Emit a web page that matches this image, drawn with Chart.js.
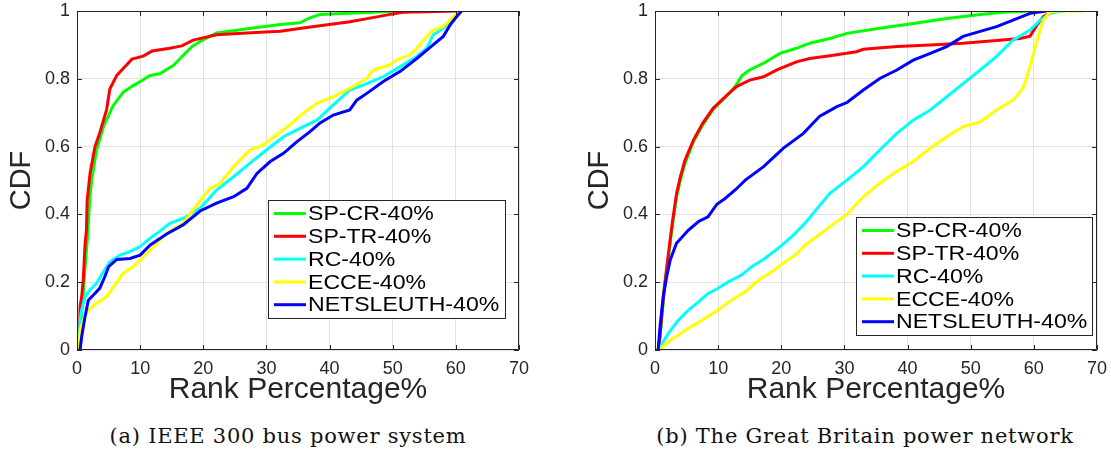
<!DOCTYPE html>
<html>
<head>
<meta charset="utf-8">
<script src="https://cdn.jsdelivr.net/npm/chart.js@4.4.0/dist/chart.umd.min.js"></script>
<style>
  body { margin: 0; background: #fff; width: 1111px; height: 454px; position: relative; overflow: hidden; }
  .box { position: absolute; top: 0; height: 410px; }
  .cap { position: absolute; top: 424px; line-height: 24px; font-family: "DejaVu Serif", serif; font-size: 21px;
         letter-spacing: 0.75px; color: #111; text-align: center; white-space: nowrap; }
</style>
</head>
<body>
<div class="box" style="left:0;width:555px"><canvas id="chartA" width="555" height="410"></canvas></div>
<div class="box" style="left:555px;width:556px"><canvas id="chartB" width="556" height="410"></canvas></div>
<div class="cap" style="left:98px;width:380px">(a) IEEE 300 bus power system</div>
<div class="cap" style="left:645px;width:440px">(b) The Great Britain power network</div>
<script>
// axis ticks
var rankTicks = [0, 10, 20, 30, 40, 50, 60, 70];
var cdfTicks = [0, 0.2, 0.4, 0.6, 0.8, 1];

var methodNames = ['SP-CR-40%', 'SP-TR-40%', 'RC-40%', 'ECCE-40%', 'NETSLEUTH-40%'];
var methodColors = ['#00ff00', '#ff0000', '#00ffff', '#ffff00', '#0000ff'];

// (a) IEEE 300 bus, [rank %, cdf]
var ieeeSpCr = [[0.3,0],[0.6,0.08],[1.0,0.17],[1.3,0.25],[1.7,0.34],[2.0,0.44],[2.3,0.5],[3.1,0.59],[4.2,0.66],
  [5.7,0.72],[7.3,0.76],[8.9,0.78],[10.5,0.797],[11.6,0.81],[13.1,0.815],[15.3,0.84],[16.6,0.865],[18.2,0.895],
  [19.5,0.91],[22.1,0.935],[27.9,0.95],[32.2,0.96],[35.3,0.965],[36.9,0.98],[38.5,0.99],[44.8,0.995],[51.6,1.0]];
var ieeeSpTr = [[0.3,0],[0.5,0.13],[0.74,0.157],[1.0,0.21],[1.27,0.31],[1.5,0.354],[1.6,0.44],[2.06,0.52],
  [2.85,0.6],[3.6,0.64],[4.7,0.71],[5.2,0.77],[6.3,0.81],[7.1,0.826],[8.7,0.858],[10.5,0.867],[11.9,0.882],
  [14.7,0.89],[16.6,0.897],[18.4,0.914],[22.1,0.93],[29,0.937],[32.2,0.94],[35.8,0.95],[43.2,0.968],
  [46.4,0.979],[49.6,0.99],[51.6,0.996],[60.2,1.0]];
var ieeeRc = [[0.3,0],[0.48,0.088],[0.74,0.118],[1.27,0.157],[2.06,0.177],[3.1,0.197],[4.2,0.231],[5.2,0.26],
  [6.8,0.28],[8.4,0.29],[10,0.305],[11.6,0.33],[13.1,0.35],[14.7,0.374],[16.8,0.388],[19.5,0.418],[22.1,0.472],
  [24.8,0.511],[27.4,0.551],[30,0.59],[32.7,0.629],[35.3,0.654],[38,0.678],[40.6,0.723],[43.2,0.767],
  [45.9,0.786],[48.5,0.806],[51.2,0.836],[53.8,0.866],[55.4,0.89],[56.4,0.929],[58,0.949],[59.6,0.973],[60.8,1.0]];
var ieeeEcce = [[0.3,0],[0.48,0.059],[1.0,0.088],[1.8,0.118],[3.1,0.138],[4.7,0.157],[5.8,0.187],[7.3,0.226],
  [8.9,0.246],[10,0.265],[11.6,0.295],[13.1,0.324],[14.2,0.344],[16.8,0.374],[18.4,0.413],[20,0.452],[21.1,0.477],
  [22.6,0.49],[24.8,0.541],[27.4,0.59],[29.5,0.605],[31.6,0.634],[33.7,0.664],[35.8,0.698],[38,0.728],
  [40.6,0.747],[43.2,0.772],[45.9,0.801],[46.9,0.826],[49.6,0.841],[50.6,0.855],[52.7,0.87],[53.8,0.89],
  [55.4,0.925],[56.4,0.944],[58,0.954],[59.1,0.973],[59.9,0.988],[61.1,1.0]];
var ieeeNetsleuth = [[0.48,0],[0.74,0.039],[1.27,0.098],[1.8,0.147],[2.6,0.162],[3.6,0.182],[4.4,0.216],[5,0.246],
  [6.3,0.267],[8.4,0.27],[10,0.28],[11.6,0.31],[14.2,0.342],[16.8,0.369],[19.5,0.41],[22.1,0.433],[24.8,0.452],
  [26.9,0.477],[28.5,0.521],[30.6,0.556],[32.7,0.58],[34.8,0.614],[36.9,0.644],[38.5,0.67],[40.6,0.693],
  [43.2,0.708],[44.3,0.737],[45.9,0.757],[48.5,0.792],[51.2,0.822],[53.8,0.86],[56.4,0.9],[58,0.925],
  [59.1,0.959],[60.1,0.983],[60.9,1.0]];

// (b) Great Britain network
var gbSpCr = [[0.5,0],[0.8,0.04],[1.1,0.1],[1.5,0.18],[2.1,0.27],[2.7,0.36],[3.4,0.45],[4.0,0.5],[4.75,0.55],
  [6.1,0.615],[7.6,0.665],[9.2,0.71],[11.4,0.75],[12.7,0.777],[13.8,0.81],[15,0.826],[17.2,0.846],[19.8,0.875],
  [22.4,0.89],[24.5,0.905],[27.7,0.919],[30.4,0.934],[35.6,0.949],[40.9,0.963],[46.2,0.978],[51.5,0.99],
  [55,0.996],[59.4,1.0]];
var gbSpTr = [[0.5,0],[0.8,0.04],[1.1,0.11],[1.5,0.19],[2.1,0.28],[2.7,0.37],[3.4,0.46],[4.0,0.51],[4.75,0.56],
  [6.1,0.62],[7.6,0.67],[9.2,0.713],[11.4,0.752],[12.9,0.777],[15,0.796],[17.2,0.806],[19.3,0.826],[22.4,0.85],
  [24.5,0.86],[27.7,0.868],[31.9,0.88],[33,0.887],[38.3,0.895],[43.6,0.9],[48.8,0.905],[54.1,0.913],
  [57.8,0.919],[59.4,0.926],[60.5,0.959],[61.5,0.983],[63.1,0.998],[63.5,1.0]];
var gbRc = [[0.5,0],[2.1,0.049],[3.7,0.088],[5.3,0.118],[6.9,0.142],[8.4,0.167],[10,0.182],[11.6,0.201],
  [13.7,0.221],[15.3,0.246],[17.4,0.27],[19.5,0.3],[21.7,0.335],[23.8,0.375],[25.8,0.42],[27.7,0.462],
  [30.4,0.501],[33,0.541],[35.6,0.59],[38.3,0.639],[40.9,0.678],[43.6,0.708],[46.2,0.747],[48.8,0.786],
  [51.5,0.826],[54.1,0.866],[56.7,0.914],[59.4,0.944],[61,0.973],[62.6,0.993],[64.6,1.0],[65,1.0]];
var gbEcce = [[0.5,0],[2.6,0.03],[5.3,0.064],[7.9,0.093],[10,0.118],[12.1,0.147],[14.3,0.172],[16.4,0.206],
  [18.5,0.231],[20.6,0.26],[22.2,0.28],[23.8,0.31],[25.8,0.337],[27.7,0.364],[30.4,0.4],[33,0.452],[35.6,0.492],
  [38.3,0.527],[40.9,0.556],[43.6,0.595],[46.2,0.629],[48.8,0.659],[51.5,0.673],[54.1,0.708],[56.7,0.737],
  [58.3,0.772],[59.4,0.836],[60.5,0.914],[61.5,0.973],[62.6,0.998],[64.6,1.0],[67.8,1.0]];
var gbNetsleuth = [[0.5,0],[0.8,0.069],[1.3,0.157],[1.85,0.216],[2.4,0.265],[3.4,0.315],[5.3,0.354],[6.9,0.379],
  [8.4,0.393],[9.8,0.43],[11.1,0.447],[12.7,0.472],[14.3,0.501],[17.2,0.541],[20.3,0.595],[23.5,0.639],
  [26.1,0.69],[28.8,0.718],[30.4,0.73],[33,0.767],[35.6,0.801],[38.3,0.826],[40.9,0.855],[43.6,0.875],
  [46.2,0.895],[48.8,0.925],[51.5,0.94],[54.1,0.954],[56.7,0.973],[59.4,0.993],[62,1.0]];

var textColor = '#262626';
var sansFont = '"Liberation Sans", Arial, Helvetica, sans-serif';

// box around the axes with inward ticks, like matlab
var matlabFrame = {
  id: 'matlabFrame',
  afterDatasetsDraw: function(chart) {
    var ctx = chart.ctx, a = chart.chartArea, sx = chart.scales.x, sy = chart.scales.y;
    ctx.save();
    ctx.strokeStyle = textColor;
    ctx.lineWidth = 1;
    ctx.beginPath();
    ctx.rect(Math.round(a.left) + 0.5, Math.round(a.top) + 0.5, Math.round(a.right - a.left) - 1, Math.round(a.bottom - a.top) - 1);
    var t = 5;
    rankTicks.forEach(function(v) {
      var px = Math.round(sx.getPixelForValue(v)) + 0.5;
      ctx.moveTo(px, a.bottom); ctx.lineTo(px, a.bottom - t);
      ctx.moveTo(px, a.top); ctx.lineTo(px, a.top + t);
    });
    cdfTicks.forEach(function(v) {
      var py = Math.round(sy.getPixelForValue(v)) + 0.5;
      ctx.moveTo(a.left, py); ctx.lineTo(a.left + t, py);
      ctx.moveTo(a.right, py); ctx.lineTo(a.right - t, py);
    });
    ctx.stroke();
    ctx.restore();
  }
};

// legend box inside the axes
var insetLegend = {
  id: 'insetLegend',
  afterDraw: function(chart, args, opts) {
    var ctx = chart.ctx;
    ctx.save();
    ctx.fillStyle = '#fff';
    ctx.fillRect(opts.left, opts.top, opts.width, opts.height);
    ctx.strokeStyle = textColor;
    ctx.lineWidth = 1;
    ctx.strokeRect(opts.left + 0.5, opts.top + 0.5, opts.width, opts.height);
    ctx.font = '21px ' + sansFont;
    ctx.textBaseline = 'middle';
    chart.data.datasets.forEach(function(ds, i) {
      var y = opts.top + 13.5 + i * 22.8;
      ctx.strokeStyle = ds.borderColor;
      ctx.lineWidth = 3;
      ctx.beginPath();
      ctx.moveTo(opts.left + 6, y); ctx.lineTo(opts.left + 38, y);
      ctx.stroke();
      // the text in the picture is a bit wider than the font
      ctx.save();
      ctx.translate(opts.left + 40, y + 1);
      ctx.scale(1.1, 1);
      ctx.fillStyle = '#000';
      ctx.fillText(ds.label, 0, 0);
      ctx.restore();
    });
    ctx.restore();
  }
};

function makeDatasets(series) {
  return series.map(function(pts, i) {
    return {
      label: methodNames[i],
      data: pts.map(function(p) { return { x: p[0], y: p[1] }; }),
      borderColor: methodColors[i],
      backgroundColor: methodColors[i],
      borderWidth: 3,
      pointRadius: 0,
      tension: 0,
      fill: false,
      order: series.length - 1 - i
    };
  });
}

// keep the plot box exactly where the layout padding puts it
function noEdgePadding(s) {
  s.paddingLeft = 0; s.paddingRight = 0; s.paddingTop = 0; s.paddingBottom = 0;
}

function makeChart(id, series, yWidth, yTitlePad, rightPad, legendBox) {
  return new Chart(document.getElementById(id), {
    type: 'line',
    data: { datasets: makeDatasets(series) },
    plugins: [matlabFrame, insetLegend],
    options: {
      responsive: false,
      animation: false,
      layout: { padding: { left: 0, right: rightPad, top: 11, bottom: 0 } },
      plugins: { legend: { display: false }, tooltip: { enabled: false }, insetLegend: legendBox },
      scales: {
        x: {
          type: 'linear', min: 0, max: 70,
          afterBuildTicks: function(s) { s.ticks = rankTicks.map(function(v) { return { value: v }; }); },
          afterFit: function(s) { s.height = 60; noEdgePadding(s); },
          grid: { color: '#e2e2e2', drawTicks: false },
          border: { display: false },
          ticks: { padding: 8, color: textColor, font: { family: sansFont, size: 18 }, maxRotation: 0,
                   callback: function(v) { return String(v); } },
          title: { display: true, text: 'Rank Percentage%', color: textColor,
                   font: { family: sansFont, size: 30 }, padding: { top: 0, bottom: 2 } }
        },
        y: {
          min: 0, max: 1,
          afterBuildTicks: function(s) { s.ticks = cdfTicks.map(function(v) { return { value: v }; }); },
          afterFit: function(s) { s.width = yWidth; noEdgePadding(s); },
          grid: { color: '#e2e2e2', drawTicks: false },
          border: { display: false },
          ticks: { padding: 7, color: textColor, font: { family: sansFont, size: 18 },
                   callback: function(v) { return String(v); } },
          title: { display: true, text: 'CDF', color: textColor,
                   font: { family: sansFont, size: 29 }, padding: { top: yTitlePad, bottom: 0 } }
        }
      }
    }
  });
}

makeChart('chartA', [ieeeSpCr, ieeeSpTr, ieeeRc, ieeeEcce, ieeeNetsleuth], 77, 5, 36,
  { left: 268, top: 200, width: 237, height: 118 });
makeChart('chartB', [gbSpCr, gbSpTr, gbRc, gbEcce, gbNetsleuth], 100, 28, 14,
  { left: 301, top: 217, width: 236, height: 118 });
</script>
</body>
</html>
